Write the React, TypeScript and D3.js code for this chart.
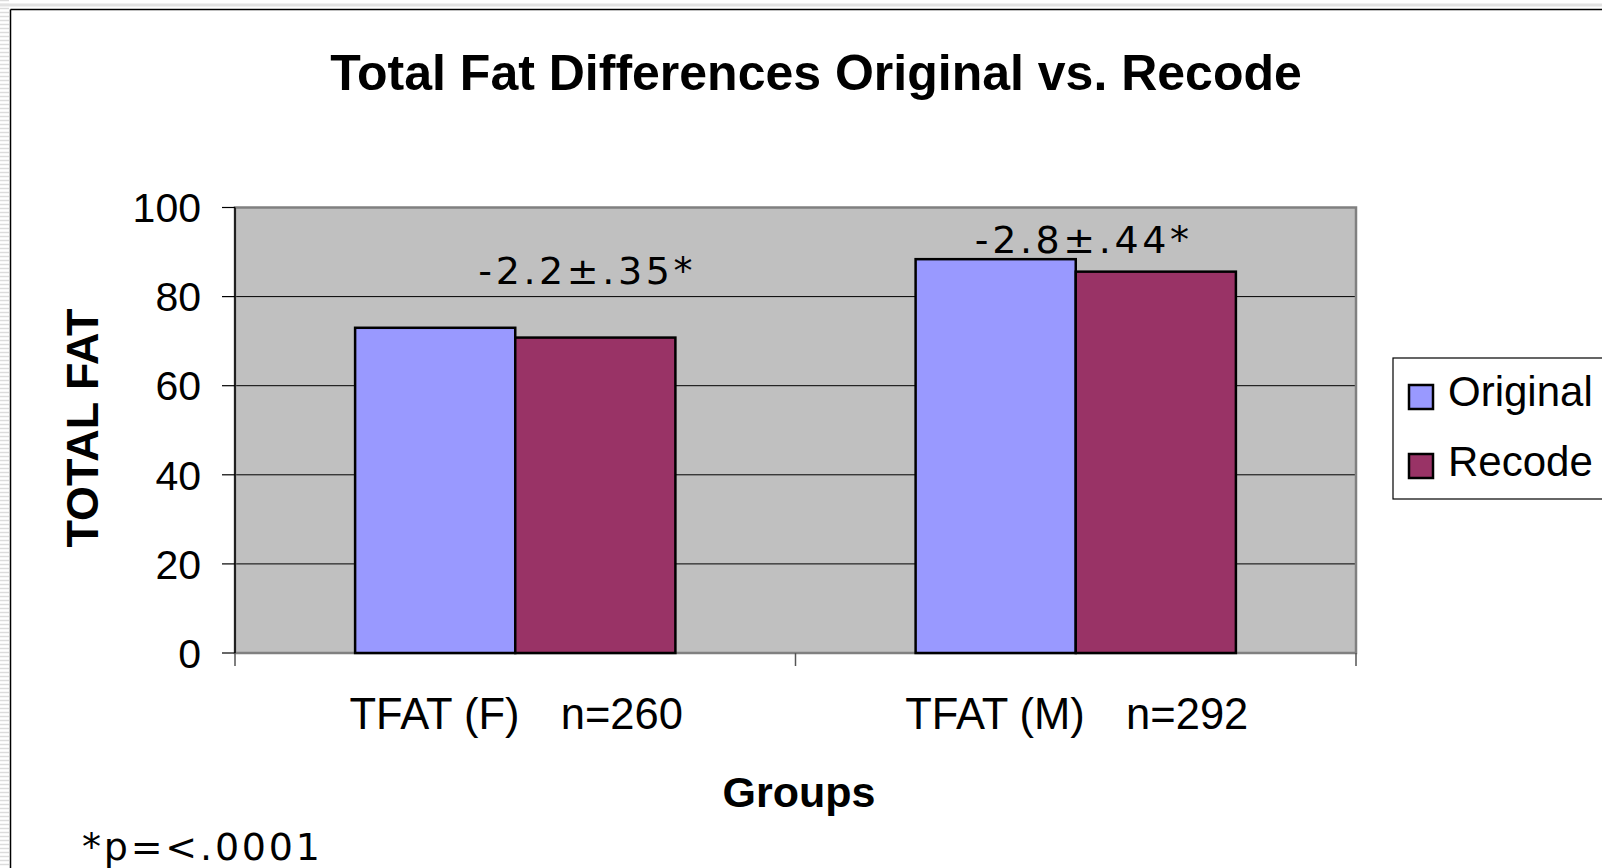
import React from "react";
import * as d3 from "d3";

const categories = ["TFAT (F)", "TFAT (M)"];
const sampleSizes = ["n=260", "n=292"];
const seriesNames = ["Original", "Recode"];
const originalValues = [73, 88.4];
const recodeValues = [70.8, 85.6];
const yTicks = [0, 20, 40, 60, 80, 100];
const diffLabels = ["-2.2\u00b1.35*", "-2.8\u00b1.44*"];
const diffLabelY = [82.8, 89.8];
const diffLabelDX = [72, 8];
const colors = ["#9999FF", "#993366"];

const W = 1602;
const H = 868;
const plot = { left: 235, right: 1356, top: 207.5, bottom: 653 };
const ARIAL = "'Liberation Sans', Arial, sans-serif";
const DEJAVU = "'DejaVu Sans', sans-serif";

export default function App() {
  const x0 = d3
    .scaleBand<string>()
    .domain(categories)
    .range([plot.left, plot.right])
    .paddingInner(0)
    .paddingOuter(0);
  const groupW = x0.bandwidth();
  const barW = groupW / 3.5;
  const x1 = d3
    .scaleBand<string>()
    .domain(seriesNames)
    .range([0, barW * 2]);
  const y = d3.scaleLinear().domain([0, 100]).range([plot.bottom, plot.top]);
  const series = [originalValues, recodeValues];

  const stripes = d3.range(0, H, 4);

  return (
    <svg
      width={W}
      height={H}
      style={{ position: "absolute", left: 0, top: 0, background: "#fff" }}
    >
      {/* striped slide background */}
      {stripes.map((s) => (
        <line key={"sl" + s} x1={0} x2={9} y1={s + 0.5} y2={s + 0.5} stroke="#dcdcdc" strokeWidth={1.5} />
      ))}
      <line x1={0} x2={W} y1={5} y2={5} stroke="#e2e2e2" strokeWidth={3} />
      {/* chart frame */}
      <line x1={10.5} x2={10.5} y1={9.5} y2={H} stroke="#000" strokeWidth={1.5} />
      <line x1={10.5} x2={W} y1={9.5} y2={9.5} stroke="#000" strokeWidth={1.5} />

      {/* title */}
      <text
        x={816}
        y={90}
        textAnchor="middle"
        fontFamily={ARIAL}
        fontWeight="bold"
        fontSize={50}
      >
        Total Fat Differences Original vs. Recode
      </text>

      {/* plot area */}
      <rect
        x={plot.left}
        y={plot.top}
        width={plot.right - plot.left}
        height={plot.bottom - plot.top}
        fill="#C0C0C0"
      />
      {yTicks
        .filter((t) => t > 0 && t < 100)
        .map((t) => (
          <line key={"g" + t} x1={plot.left} x2={plot.right} y1={y(t)} y2={y(t)} stroke="#000" strokeWidth={1} />
        ))}
      <rect
        x={plot.left}
        y={plot.top}
        width={plot.right - plot.left}
        height={plot.bottom - plot.top}
        fill="none"
        stroke="#808080"
        strokeWidth={2.5}
      />

      {/* bars */}
      {categories.map((c, ci) => {
        const gx = (x0(c) as number) + (groupW - barW * 2) / 2;
        return seriesNames.map((s, si) => (
          <rect
            key={c + s}
            x={gx + (x1(s) as number)}
            y={y(series[si][ci])}
            width={barW}
            height={y(0) - y(series[si][ci])}
            fill={colors[si]}
            stroke="#000"
            strokeWidth={2.5}
          />
        ));
      })}

      {/* axes */}
      <line x1={plot.left} x2={plot.left} y1={plot.top} y2={plot.bottom} stroke="#000" strokeWidth={1.5} />
      {yTicks.map((t) => (
        <g key={"yt" + t}>
          <line x1={222} x2={plot.left} y1={y(t)} y2={y(t)} stroke="#000" strokeWidth={1.2} />
          <text
            x={201}
            y={y(t)}
            dy="0.36em"
            textAnchor="end"
            fontFamily={ARIAL}
            fontSize={41}
          >
            {t}
          </text>
        </g>
      ))}
      {[plot.left, ...categories.map((c) => (x0(c) as number) + groupW)].map((xv, i) => (
        <line key={"xt" + i} x1={xv} x2={xv} y1={plot.bottom} y2={plot.bottom + 13} stroke="#555" strokeWidth={1.5} />
      ))}
      {categories.map((c, ci) => (
        <text
          key={"xl" + c}
          x={(x0(c) as number) + groupW / 2 + 1}
          y={729}
          textAnchor="middle"
          fontFamily={ARIAL}
          fontSize={43.5}
          style={{ whiteSpace: "pre" }}
        >
          <tspan>{c + "   "}</tspan>
          <tspan dx={5}>{sampleSizes[ci]}</tspan>
        </text>
      ))}

      {/* difference labels */}
      {categories.map((c, ci) => (
        <text
          key={"dl" + c}
          x={(x0(c) as number) + groupW / 2 + diffLabelDX[ci]}
          y={y(diffLabelY[ci])}
          textAnchor="middle"
          fontFamily={DEJAVU}
          fontSize={38}
          letterSpacing={3.6}
        >
          {diffLabels[ci]}
        </text>
      ))}

      {/* axis titles */}
      <text
        x={799}
        y={807}
        textAnchor="middle"
        fontFamily={ARIAL}
        fontWeight="bold"
        fontSize={43}
      >
        Groups
      </text>
      <text
        transform="translate(98,428) rotate(-90)"
        textAnchor="middle"
        fontFamily={ARIAL}
        fontWeight="bold"
        fontSize={45}
      >
        TOTAL FAT
      </text>

      {/* footnote */}
      <text x={82} y={860} fontFamily={DEJAVU} fontSize={38} letterSpacing={2.8}>
        *p=&lt;.0001
      </text>

      {/* legend */}
      <rect x={1393} y={358} width={240} height={141} fill="#fff" stroke="#000" strokeWidth={1.2} />
      {seriesNames.map((s, si) => (
        <g key={"lg" + s}>
          <rect x={1409} y={385 + si * 69} width={24} height={24} fill={colors[si]} stroke="#000" strokeWidth={2.5} />
          <text x={1448} y={406 + si * 70} fontFamily={ARIAL} fontSize={42}>
            {s}
          </text>
        </g>
      ))}
    </svg>
  );
}
